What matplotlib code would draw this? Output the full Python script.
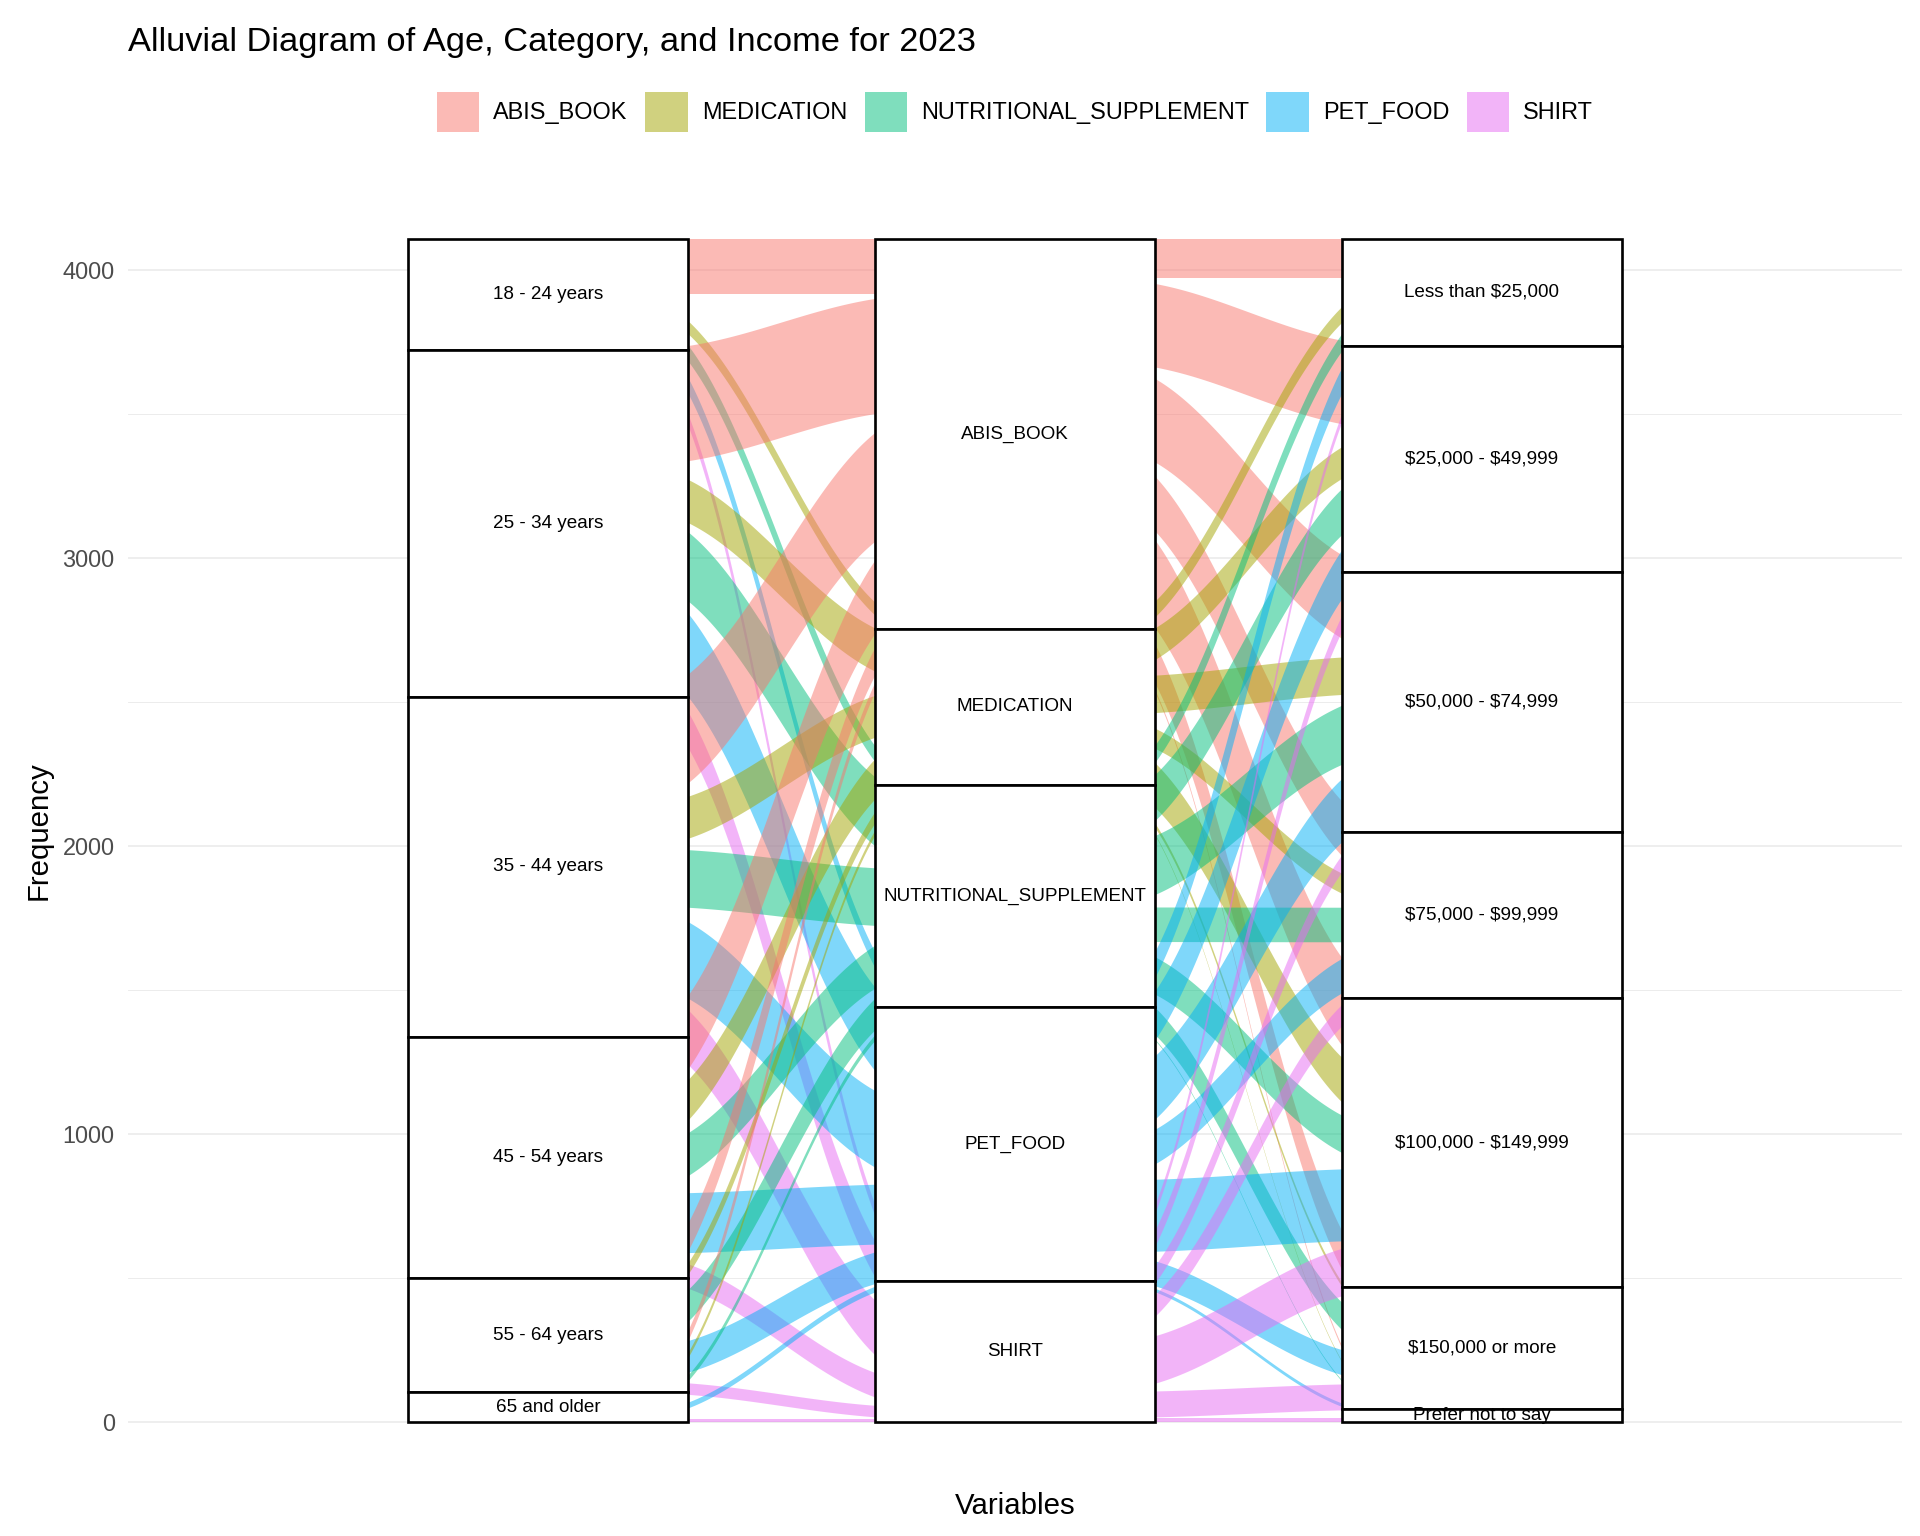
import numpy as np
import matplotlib
matplotlib.use('Agg')
import matplotlib.pyplot as plt
from matplotlib.patches import Patch

plt.rcParams['font.family'] = ['Liberation Sans', 'DejaVu Sans']

# Strata of the three axes (top to bottom)
ages = ['18 - 24 years', '25 - 34 years', '35 - 44 years',
        '45 - 54 years', '55 - 64 years', '65 and older']
categories = ['ABIS_BOOK', 'MEDICATION', 'NUTRITIONAL_SUPPLEMENT', 'PET_FOOD', 'SHIRT']
incomes = ['Less than $25,000', '$25,000 - $49,999', '$50,000 - $74,999',
           '$75,000 - $99,999', '$100,000 - $149,999', '$150,000 or more',
           'Prefer not to say']

# Frequencies: rows = age, columns = category
age_cat = np.array([
    [190, 45, 55, 55, 40],
    [400, 150, 240, 290, 125],
    [378, 146, 200, 266, 190],
    [255, 140, 149, 208, 85],
    [97, 40, 110, 110, 40],
    [35, 18, 20, 20, 10],
])

# rows = category, columns = income
cat_income = np.array([
    [135, 290, 290, 190, 305, 136, 9],
    [55, 110, 130, 70, 155, 15, 4],
    [60, 160, 205, 120, 130, 95, 4],
    [90, 170, 220, 120, 250, 87, 12],
    [30, 55, 60, 75, 165, 90, 15],
])

cat_colors = ['#F8766D', '#A3A500', '#00BF7D', '#00B0F6', '#E76BF3']

STRATUM_W = 0.6
FLOW_W = 1 / 3


def stack_tops(sizes, top):
    '''Return top positions of stacked blocks, first block on top.'''
    return top - np.concatenate([[0], np.cumsum(sizes)[:-1]])


def draw_flow(ax, xa, xb, ya, yb, size, color):
    '''Ribbon from lode top ya at axis xa to lode top yb at axis xb.'''
    t = np.linspace(0, 1, 120)
    f = ((3 * t**2 - 2 * t**3) + (6 * t**5 - 15 * t**4 + 10 * t**3)) / 2
    xs = xa + FLOW_W / 2 + (xb - xa - FLOW_W) * t
    top = ya + (yb - ya) * f
    ax.fill_between(xs, top - size, top, color=color, alpha=0.5, lw=0, zorder=2)


def draw_axis_strata(ax, x, totals, labels, top):
    tops = stack_tops(totals, top)
    ax.bar([x] * len(totals), totals, bottom=tops - totals, width=STRATUM_W,
           facecolor='white', edgecolor='black', linewidth=1.0, zorder=3)
    for t, h, lab in zip(tops, totals, labels):
        ax.text(x, t - h / 2, lab, ha='center', va='center', fontsize=7.1,
                color='black', zorder=4, parse_math=False)


age_tot = age_cat.sum(axis=1)
cat_tot = age_cat.sum(axis=0)
inc_tot = cat_income.sum(axis=0)
total = age_tot.sum()

fig = plt.figure(figsize=(10, 8), dpi=192)
ax = fig.add_axes([128 / 1920, 1 - 1481 / 1536, (1902 - 128) / 1920, (1481 - 180) / 1536])

age_tops = stack_tops(age_tot, total)
cat_tops = stack_tops(cat_tot, total)
inc_tops = stack_tops(inc_tot, total)

# Left flows: age -> category
for i in range(len(ages)):
    out_tops = stack_tops(age_cat[i], age_tops[i])
    for j in range(len(categories)):
        in_tops = stack_tops(age_cat[:, j], cat_tops[j])
        if age_cat[i, j] > 0:
            draw_flow(ax, 1, 2, out_tops[j], in_tops[i], age_cat[i, j], cat_colors[j])

# Right flows: category -> income
for j in range(len(categories)):
    out_tops = stack_tops(cat_income[j], cat_tops[j])
    for k in range(len(incomes)):
        in_tops = stack_tops(cat_income[:, k], inc_tops[k])
        if cat_income[j, k] > 0:
            draw_flow(ax, 2, 3, out_tops[k], in_tops[j], cat_income[j, k], cat_colors[j])

draw_axis_strata(ax, 1, age_tot, ages, total)
draw_axis_strata(ax, 2, cat_tot, categories, total)
draw_axis_strata(ax, 3, inc_tot, incomes, total)

ax.set_xlim(0.1, 3.9)
ax.set_ylim(-0.05 * total, 1.05 * total)
ax.set_xticks([])
ax.set_yticks([0, 1000, 2000, 3000, 4000])
ax.set_yticks([500, 1500, 2500, 3500], minor=True)
ax.tick_params(axis='y', which='both', length=0, labelsize=8.8, labelcolor='#4D4D4D', pad=5)
ax.grid(axis='y', which='major', color='#EBEBEB', linewidth=0.6, zorder=0)
ax.grid(axis='y', which='minor', color='#EBEBEB', linewidth=0.35, zorder=0)
ax.set_axisbelow(True)
for s in ax.spines.values():
    s.set_visible(False)

ax.set_xlabel('Variables', fontsize=11, labelpad=4)
ax.set_ylabel('Frequency', fontsize=11, labelpad=3.7)

fig.text(128 / 1920, 1 - 42 / 1536, 'Alluvial Diagram of Age, Category, and Income for 2023',
         fontsize=12.9, ha='left', va='center')

handles = [Patch(facecolor=c, alpha=0.5, edgecolor='none') for c in cat_colors]
fig.legend(handles, categories, loc='center', bbox_to_anchor=(1015 / 1920, 1 - 112 / 1536),
           ncol=5, frameon=False, fontsize=8.8, handlelength=1.8, handleheight=2.2,
           handletextpad=0.6, columnspacing=0.75, borderaxespad=0)

fig.savefig('out.png', dpi=192)
